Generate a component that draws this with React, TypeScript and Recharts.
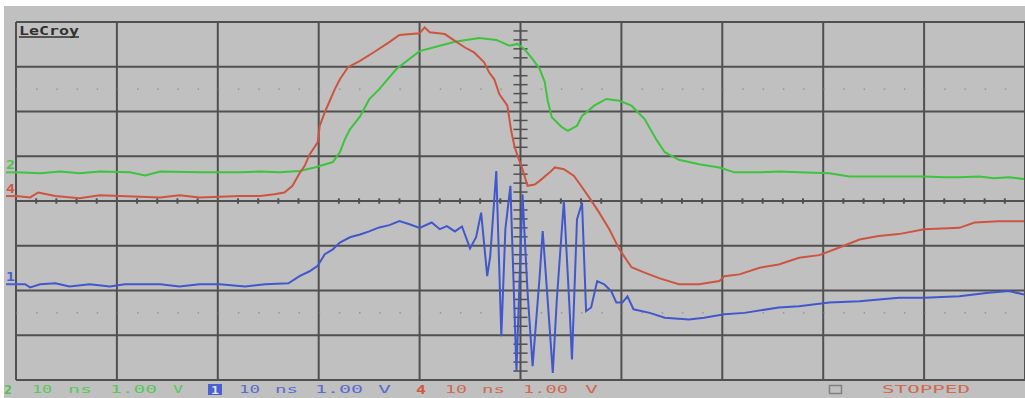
import React from "react";
import { LineChart, Line, XAxis, YAxis, CartesianGrid, ReferenceLine } from "recharts";

// Time in ns (10 ns/div), voltage in V (1 V/div)
const GREEN_T = [0, 2.4, 4.4, 6.3, 8.3, 11.3, 12.8, 14.3, 18.2, 22.2, 24.2, 26.1, 28.1, 29.6, 31.4, 32.1, 32.6, 33.1, 34.1, 35.0, 36.0, 37.7, 40.0, 42.0, 43.5, 45.9, 47.6, 48.9, 49.7, 50.4, 51.2, 51.9, 52.4, 52.7, 53.1, 54.1, 54.7, 55.6, 56.1, 57.3, 58.5, 59.8, 61.0, 62.3, 63.5, 64.3, 65.7, 67.7, 69.7, 71.2, 73.7, 75.6, 77.6, 80.6, 82.6, 84.6, 87.5, 90.0, 92.0, 93.5, 95.5, 96.9, 98.4, 99.9];
const GREEN_V = [0.64, 0.62, 0.66, 0.62, 0.66, 0.64, 0.57, 0.66, 0.64, 0.64, 0.66, 0.64, 0.67, 0.75, 0.87, 1.09, 1.38, 1.6, 1.89, 2.27, 2.5, 2.95, 3.35, 3.47, 3.56, 3.64, 3.6, 3.47, 3.51, 3.39, 3.17, 2.95, 2.66, 2.24, 1.87, 1.65, 1.57, 1.68, 1.9, 2.13, 2.28, 2.24, 2.13, 1.83, 1.36, 1.09, 0.92, 0.82, 0.75, 0.64, 0.64, 0.66, 0.64, 0.62, 0.55, 0.55, 0.55, 0.55, 0.53, 0.53, 0.55, 0.51, 0.53, 0.49];

const RED_T = [0, 1.4, 2.2, 3.9, 6.3, 8.3, 10.3, 14.3, 16.2, 18.2, 22.2, 24.2, 25.6, 26.6, 27.4, 28.1, 28.6, 29.1, 29.9, 30.1, 30.6, 31.1, 31.6, 32.1, 32.9, 34.1, 35.5, 37.0, 38.0, 40.0, 40.5, 41.0, 42.5, 43.5, 44.5, 45.4, 46.4, 46.9, 47.4, 47.9, 48.7, 48.9, 49.1, 49.4, 49.7, 50.1, 50.4, 50.7, 51.4, 51.9, 52.9, 53.4, 54.3, 55.3, 56.0, 56.8, 57.8, 58.8, 59.8, 61.0, 62.3, 63.8, 65.7, 67.7, 69.7, 70.2, 71.7, 73.7, 75.6, 77.6, 79.6, 81.6, 83.6, 85.5, 87.5, 90.0, 93.5, 95.0, 97.4, 99.9];
const RED_V = [0.11, 0.08, 0.19, 0.11, 0.06, 0.13, 0.11, 0.08, 0.13, 0.08, 0.11, 0.11, 0.15, 0.19, 0.34, 0.62, 0.78, 1.04, 1.31, 1.68, 1.98, 2.24, 2.5, 2.72, 2.99, 3.13, 3.33, 3.55, 3.71, 3.75, 3.88, 3.77, 3.73, 3.58, 3.43, 3.32, 3.1, 2.87, 2.72, 2.39, 2.13, 1.83, 1.54, 1.23, 1.01, 0.78, 0.56, 0.34, 0.37, 0.45, 0.64, 0.75, 0.71, 0.56, 0.34, 0.08, -0.26, -0.63, -1.08, -1.48, -1.6, -1.73, -1.86, -1.86, -1.79, -1.68, -1.64, -1.49, -1.42, -1.27, -1.21, -1.04, -0.86, -0.78, -0.74, -0.63, -0.6, -0.48, -0.45, -0.45];

const BLUE_T = [0, 0.9, 1.4, 2.4, 3.9, 5.3, 7.3, 9.3, 10.8, 12.3, 14.3, 16.2, 18.2, 20.2, 22.7, 24.7, 27.0, 28.1, 29.1, 29.9, 30.6, 31.4, 32.1, 33.1, 34.1, 35.0, 36.0, 37.0, 38.0, 39.0, 40.0, 41.2, 42.0, 42.7, 43.5, 44.2, 45.0, 45.6, 46.1, 46.7, 47.0, 47.6, 48.1, 48.5, 49.0, 49.6, 50.2, 50.7, 51.2, 51.9, 52.2, 52.9, 53.2, 53.6, 54.3, 54.9, 55.1, 55.6, 56.1, 56.5, 57.0, 57.6, 58.3, 59.0, 59.5, 60.1, 60.6, 61.2, 62.8, 64.3, 66.7, 68.2, 70.2, 72.2, 75.6, 77.6, 80.6, 83.6, 87.5, 90.0, 93.5, 96.4, 98.4, 99.9];
const BLUE_V = [-1.86, -1.86, -1.93, -1.86, -1.84, -1.91, -1.86, -1.91, -1.86, -1.86, -1.86, -1.91, -1.86, -1.86, -1.91, -1.86, -1.84, -1.68, -1.57, -1.45, -1.19, -1.08, -0.93, -0.81, -0.75, -0.68, -0.59, -0.54, -0.45, -0.52, -0.6, -0.48, -0.63, -0.56, -0.68, -0.57, -1.06, -0.81, -0.26, -1.68, -1.23, 0.67, -3.02, -0.63, 0.34, -3.8, 0.15, -2.04, -3.69, -1.68, -0.67, -2.87, -3.84, -2.2, 0.0, -2.57, -3.54, -0.41, -0.04, -2.46, -2.38, -1.79, -1.86, -2.02, -2.27, -2.27, -2.13, -2.42, -2.5, -2.61, -2.65, -2.61, -2.53, -2.5, -2.38, -2.35, -2.27, -2.24, -2.16, -2.16, -2.13, -2.05, -2.01, -2.09];

const X_TICKS = [0, 10, 20, 30, 40, 50, 60, 70, 80, 90, 100];
const Y_TICKS = [-4, -3, -2, -1, 0, 1, 2, 3, 4];

const CHANNEL_LABELS = [
  { name: "2", level: 0.64, color: "#4cc44c" },
  { name: "4", level: 0.11, color: "#cc5a44" },
  { name: "1", level: -1.86, color: "#4a5fd0" },
];

const STATUS_GREEN = ["10", "ns", "1.00", "V"];
const STATUS_BLUE = ["10", "ns", "1.00", "V"];
const STATUS_RED = ["10", "ns", "1.00", "V"];
const STATUS_STATE = "STOPPED";

const toSeries = (t: number[], v: number[]) => t.map((x, i) => ({ t: x, v: v[i] }));
const green = toSeries(GREEN_T, GREEN_V);
const red = toSeries(RED_T, RED_V);
const blue = toSeries(BLUE_T, BLUE_V);

const W = 1025;
const H = 398;
const M = { top: 22, right: 0, bottom: 18, left: 16 };
const plotH = H - M.top - M.bottom;
const yPx = (v: number) => M.top + plotH * (4 - v) / 8;

const minorX: number[] = [];
for (let k = 1; k < 50; k++) if (k % 5 !== 0) minorX.push(k * 2);
const minorY: number[] = [];
for (let k = -19; k <= 19; k++) if (k % 5 !== 0) minorY.push(Math.round(k * 0.2 * 100) / 100);

const GRID = "#505050";
const MONO = "'DejaVu Sans Mono', monospace";

export default function App() {
  const statusRow = (
    items: string[],
    xs: number[],
    ws: number[],
    color: string
  ) =>
    items.map((s, i) => (
      <text key={s + i + color} x={xs[i]} y={393} fill={color} fontFamily={MONO} fontSize={11}
        textLength={ws[i]} lengthAdjust="spacingAndGlyphs">{s}</text>
    ));
  return (
    <div style={{ position: "absolute", left: 0, top: 0, width: W, height: H, background: "#ffffff", overflow: "hidden" }}>
      <div style={{ position: "absolute", left: 4, top: 6, right: 0, bottom: 0, background: "#c0c0c0" }} />
      <div style={{ position: "absolute", left: 0, top: 0 }}>
        <LineChart width={W} height={H} margin={M}>
          <XAxis type="number" dataKey="t" domain={[0, 100]} ticks={X_TICKS} hide allowDataOverflow />
          <YAxis type="number" dataKey="v" domain={[-4, 4]} ticks={Y_TICKS} hide allowDataOverflow />
          <CartesianGrid stroke={GRID} strokeWidth={2} />
          <ReferenceLine x={0} stroke={GRID} strokeWidth={2} />
          <ReferenceLine y={4} stroke={GRID} strokeWidth={2} />
          <ReferenceLine y={-4} stroke={GRID} strokeWidth={2} />
          <ReferenceLine y={2.5} stroke="#808080" strokeWidth={1} strokeDasharray="1.5 18.68" />
          <ReferenceLine y={-2.5} stroke="#808080" strokeWidth={1} strokeDasharray="1.5 18.68" />
          {minorX.map((t) => (
            <ReferenceLine key={"mx" + t} segment={[{ x: t, y: -0.06 }, { x: t, y: 0.06 }]} stroke={GRID} strokeWidth={2} />
          ))}
          {minorY.map((v) => (
            <ReferenceLine key={"my" + v} segment={[{ x: 49.3, y: v }, { x: 50.7, y: v }]} stroke={GRID} strokeWidth={1.5} />
          ))}
          <Line data={green} dataKey="v" stroke="#3cc43c" strokeWidth={2} dot={false} isAnimationActive={false} type="linear" />
          <Line data={red} dataKey="v" stroke="#cc5540" strokeWidth={2} dot={false} isAnimationActive={false} type="linear" />
          <Line data={blue} dataKey="v" stroke="#4257cc" strokeWidth={2} dot={false} isAnimationActive={false} type="linear" />
        </LineChart>
      </div>
      <svg width={W} height={H} style={{ position: "absolute", left: 0, top: 0, pointerEvents: "none" }}>
        <text x={19} y={35} fill="#303030" fontFamily={MONO} fontWeight="bold" fontSize={12} textLength={60} lengthAdjust="spacingAndGlyphs">LeCroy</text>
        <line x1={19} x2={79} y1={37} y2={37} stroke="#303030" strokeWidth={1.5} />
        {CHANNEL_LABELS.map((c) => (
          <g key={c.name}>
            <text x={6} y={yPx(c.level) - 3} fill={c.color} fontFamily={MONO} fontWeight="bold" fontSize={13} textLength={9} lengthAdjust="spacingAndGlyphs">{c.name}</text>
            <line x1={6} x2={17} y1={yPx(c.level)} y2={yPx(c.level)} stroke={c.color} strokeWidth={2} />
          </g>
        ))}
        <text x={4} y={394} fill="#4cc44c" fontFamily={MONO} fontWeight="bold" fontSize={12} textLength={8} lengthAdjust="spacingAndGlyphs">2</text>
        {statusRow(STATUS_GREEN, [32, 68, 110, 173], [20, 24, 47, 10], "#58c858")}
        <rect x={208} y={384} width={14} height={11} fill="#4a5fd0" />
        <text x={211} y={393.5} fill="#e0e0e0" fontFamily={MONO} fontWeight="bold" fontSize={11} textLength={8} lengthAdjust="spacingAndGlyphs">1</text>
        {statusRow(STATUS_BLUE, [239, 275, 315, 378], [21, 23, 48, 13], "#5a6cd0")}
        <text x={416} y={394} fill="#d05a40" fontFamily={MONO} fontWeight="bold" fontSize={12} textLength={10} lengthAdjust="spacingAndGlyphs">4</text>
        {statusRow(STATUS_RED, [445, 482, 523, 585], [22, 23, 45, 13], "#d06a50")}
        <rect x={829.5} y={385.5} width={12} height={8} fill="none" stroke="#808080" strokeWidth={1.5} />
        <text x={882} y={393} fill="#d06a50" fontFamily={MONO} fontSize={11} textLength={88} lengthAdjust="spacingAndGlyphs">{STATUS_STATE}</text>
      </svg>
    </div>
  );
}
